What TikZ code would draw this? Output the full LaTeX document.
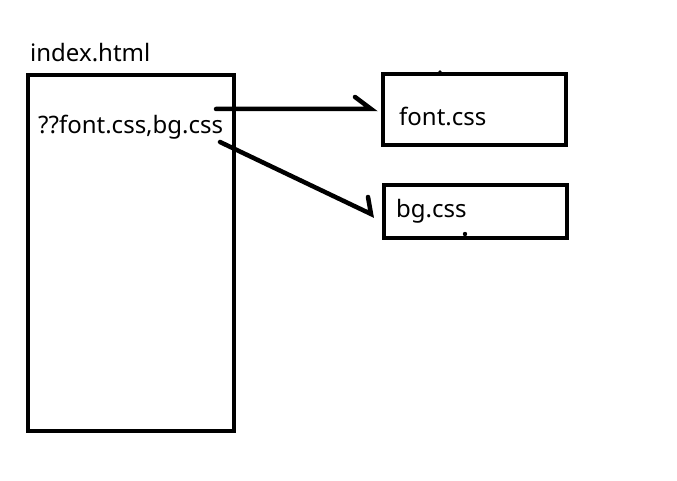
\documentclass[tikz,border=0pt]{standalone}
\usepackage{fontspec}
\setmainfont{Noto Sans}
\begin{document}
\begin{tikzpicture}[x=1pt,y=-1pt,
  box/.style={draw,line width=4pt,line join=miter},
  lbl/.style={anchor=base west,inner sep=0pt,font=\fontsize{24}{28}\selectfont},
  pen/.style={line width=4.5pt,line cap=round}]
\useasboundingbox (0,0) rectangle (677,481);
\draw[box] (28,75) rectangle (234,431);
\draw[box] (383,74) rectangle (566,145);
\draw[box] (384,185) rectangle (567,238);
\node[lbl] (idx) at (30,62) {index.html};
\node[lbl] (ref) at (38,134) {??font.css,bg.css};
\node[lbl] (fnt) at (399,126) {font.css};
\node[lbl] (bgc) at (396,218) {bg.css};
\coordinate (a1s) at (216,109);
\coordinate (a1e) at (371,109);
\coordinate (a1b) at (355,97);
\coordinate (a2s) at (220,142);
\coordinate (a2e) at (371,214);
\coordinate (a2b) at (368,197);
\draw[pen] (a1s) -- (a1e) -- (a1b);
\draw[pen] (a2s) -- (a2e) -- (a2b);
\fill (440,72) circle (1.8);
\fill (465,234) circle (2.2);
\end{tikzpicture}
\end{document}
